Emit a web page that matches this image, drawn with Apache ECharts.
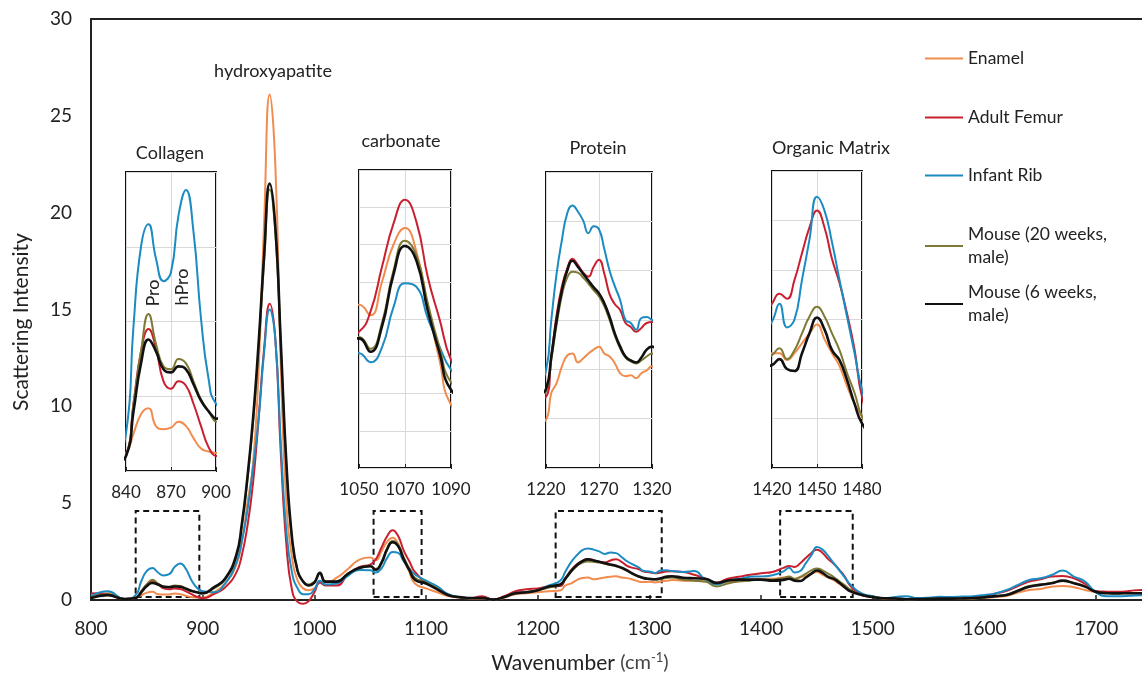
<!DOCTYPE html>
<html>
<head>
<meta charset="utf-8">
<script src="https://cdn.jsdelivr.net/npm/echarts@6/dist/echarts.min.js"></script>
<style>
  html, body { margin: 0; padding: 0; background: #fff; }
  #main { width: 1142px; height: 677px; }
</style>
</head>
<body>
<div id="main"></div>
<script>
// wavenumber samples (cm-1), finer steps inside the zoomed regions
var wavenumber = [800,815,830,
  840,845,850,855,860,865,870,875,880,885,890,895,900,
  910,920,
  930,935,940,945,950,955,960,965,970,975,980,985,990,995,1000,1005,1010,
  1020,1030,1040,
  1050,1055,1060,1065,1070,1075,1080,1085,1090,
  1100,1110,1120,1130,1140,1150,1160,1170,1180,1190,1200,1210,
  1220,1225,1230,1235,1240,1245,1250,1255,1260,1265,1270,1275,1280,1285,1290,1295,1300,1305,1310,1315,1320,
  1330,1340,1350,1360,1370,1380,1390,1400,1410,
  1420,1425,1430,1435,1440,1445,1450,1455,1460,1465,1470,1475,1480,
  1490,1500,1510,1520,1530,1540,1550,1560,1570,1580,1590,1600,1610,1620,1630,1640,1650,1660,1670,1680,1690,1700,1710,1720,1730,1740,1750];

var enamel = [0.3,0.35,0.05,
  0.12,0.25,0.38,0.42,0.3,0.28,0.29,0.33,0.3,0.22,0.15,0.13,0.12,
  0.4,0.85,
  1.8,3.0,5.0,7.0,11.8,19.5,26.1,22.5,12,5,2.2,1.0,0.6,0.5,0.6,0.9,0.9,
  1.15,1.6,2.07,
  2.19,2.05,2.5,3.0,3.22,2.9,2.15,1.45,0.85,
  0.6,0.4,0.2,0.12,0.08,0.08,0.02,0.12,0.3,0.35,0.4,0.45,
  0.49,0.76,0.86,1.03,1.14,1.16,1.07,1.11,1.16,1.2,1.23,1.16,1.13,1.06,0.96,0.93,0.94,0.91,0.96,0.99,1.03,
  1.0,1.0,0.95,0.85,0.95,1.0,1.05,1.1,1.1,
  1.16,1.16,1.09,1.16,1.26,1.36,1.45,1.3,1.16,1.03,0.83,0.65,0.52,
  0.25,0.15,0.08,0.08,0.04,0.05,0.05,0.06,0.05,0.06,0.08,0.12,0.15,0.22,0.38,0.52,0.57,0.69,0.72,0.66,0.52,0.4,0.35,0.35,0.35,0.35,0.35];

var adultFemur = [0.35,0.3,0.05,
  0.1,0.45,0.8,0.95,0.82,0.6,0.55,0.6,0.57,0.45,0.3,0.16,0.1,
  0.3,0.65,
  1.4,2.3,3.8,6.0,9.3,13.0,15.3,13.5,7.5,2.8,0.5,-0.1,-0.2,-0.05,0.4,0.9,0.75,
  0.75,1.3,1.7,
  1.83,2.1,2.7,3.28,3.6,3.3,2.55,2.0,1.45,
  0.9,0.6,0.25,0.15,0.1,0.2,0.02,0.2,0.45,0.55,0.6,0.7,
  0.72,1.13,1.55,1.84,2.02,2.12,2.06,1.98,1.94,2.04,2.11,1.97,1.76,1.66,1.6,1.47,1.43,1.38,1.42,1.47,1.48,
  1.45,1.3,1.1,0.9,1.1,1.2,1.3,1.38,1.45,
  1.66,1.76,1.71,1.9,2.17,2.43,2.6,2.43,2.11,1.87,1.56,1.2,0.72,
  0.28,0.16,0.1,0.08,0.05,0.06,0.07,0.08,0.08,0.1,0.14,0.2,0.34,0.48,0.72,0.95,1.07,1.21,1.24,1.12,0.83,0.45,0.43,0.42,0.47,0.52,0.52];

var infantRib = [0.2,0.45,0.05,
  0.25,0.97,1.5,1.65,1.42,1.27,1.33,1.71,1.88,1.6,1.02,0.62,0.45,
  0.4,0.85,
  1.9,3.0,4.6,6.8,9.3,12.8,15.0,13.5,8.0,3.5,1.4,0.6,0.3,0.3,0.55,1.0,0.8,
  0.85,1.25,1.55,
  1.54,1.42,1.62,2.16,2.48,2.43,2.0,1.63,1.32,
  1.0,0.7,0.3,0.15,0.1,0.1,0.02,0.15,0.35,0.4,0.5,0.75,
  0.99,1.5,1.97,2.31,2.58,2.66,2.6,2.51,2.38,2.45,2.42,2.22,2.0,1.84,1.7,1.5,1.47,1.4,1.52,1.53,1.5,
  1.45,1.5,1.05,0.8,1.0,1.08,1.2,1.22,1.28,
  1.48,1.66,1.42,1.5,1.9,2.31,2.74,2.6,2.28,1.9,1.53,1.16,0.79,
  0.34,0.2,0.1,0.15,0.2,0.1,0.12,0.17,0.15,0.18,0.2,0.26,0.34,0.52,0.78,1.03,1.12,1.29,1.52,1.21,0.95,0.38,0.2,0.2,0.22,0.25,0.25];

var mouse20 = [0.15,0.3,0.05,
  0.1,0.45,0.8,1.05,0.85,0.7,0.68,0.75,0.72,0.6,0.48,0.4,0.33,
  0.6,1.05,
  2.2,3.8,6.2,9.1,13.0,17.5,21.2,19.0,13.0,6.8,3.1,1.5,0.95,0.8,0.95,1.35,0.95,
  0.95,1.35,1.65,
  1.76,1.6,1.95,2.65,3.05,2.85,2.2,1.62,1.15,
  0.9,0.6,0.25,0.15,0.1,0.1,0.02,0.15,0.35,0.4,0.5,0.65,
  0.78,1.1,1.45,1.75,1.93,1.99,1.98,1.93,1.87,1.8,1.74,1.64,1.5,1.34,1.21,1.12,1.08,1.06,1.09,1.13,1.16,
  1.05,1.0,0.95,0.7,0.85,0.95,1.0,1.05,1.05,
  1.14,1.21,1.1,1.19,1.36,1.53,1.63,1.53,1.36,1.19,0.96,0.76,0.52,
  0.26,0.16,0.09,0.08,0.04,0.05,0.06,0.07,0.07,0.08,0.1,0.14,0.2,0.28,0.5,0.72,0.8,0.88,0.98,0.88,0.7,0.43,0.36,0.35,0.36,0.36,0.36];

var mouse6 = [0.1,0.25,0.05,
  0.1,0.4,0.72,0.88,0.8,0.68,0.66,0.7,0.68,0.58,0.47,0.4,0.35,
  0.65,1.1,
  2.3,3.9,6.3,9.3,13.2,17.8,21.5,19.3,13.2,7.0,3.2,1.5,0.95,0.75,0.9,1.4,0.95,
  0.95,1.35,1.65,
  1.74,1.56,1.9,2.6,2.98,2.78,2.1,1.55,1.05,
  0.85,0.55,0.25,0.15,0.1,0.1,0.02,0.15,0.35,0.4,0.5,0.7,
  0.8,1.13,1.5,1.8,2.0,2.1,2.04,1.97,1.9,1.83,1.77,1.67,1.53,1.36,1.23,1.13,1.09,1.07,1.12,1.2,1.23,
  1.15,1.12,1.1,0.88,1.0,1.05,1.05,1.05,1.0,
  1.04,1.1,1.0,0.98,1.16,1.36,1.52,1.4,1.19,1.09,0.89,0.65,0.45,
  0.26,0.15,0.09,0.08,0.04,0.05,0.06,0.07,0.07,0.08,0.1,0.14,0.2,0.26,0.48,0.69,0.78,0.86,1.0,0.86,0.69,0.42,0.35,0.34,0.35,0.35,0.35];

var seriesNames = ['Enamel', 'Adult Femur', 'Infant Rib', 'Mouse (20 weeks, male)', 'Mouse (6 weeks, male)'];
var seriesValues = [enamel, adultFemur, infantRib, mouse20, mouse6];
var seriesColors = ['#f28c4e', '#c8202f', '#1b8bc2', '#7e7a36', '#111111'];

// zoomed regions: x range, x tick step, y max (y step 0.5)
var insetTitles = ['Collagen', 'carbonate', 'Protein', 'Organic Matrix'];
var insetMin = [840, 1050, 1220, 1420];
var insetMax = [900, 1090, 1320, 1480];
var insetStep = [30, 20, 50, 30];
var insetYMax = [2, 4, 3, 3];

// dashed boxes on the main plot [x1, y1, x2, y2]
var boxes = [[840, 0.15, 897, 4.6], [1053, 0.15, 1096, 4.6], [1216, 0.15, 1311, 4.6], [1417, 0.15, 1482, 4.6]];

var FONT = 'Lato, "Open Sans", sans-serif';
var chartDom = document.getElementById('main');
var myChart = echarts.init(chartDom, null, { renderer: 'canvas' });

function pairs(v) {
  return wavenumber.map(function (x, i) { return [x, v[i]]; });
}
function plain(v) { return String(v); }

var insetPos = [
  { left: 126, top: 172, width: 90, height: 299 },
  { left: 359, top: 170, width: 92, height: 298 },
  { left: 546, top: 172, width: 106, height: 296 },
  { left: 772, top: 171, width: 90, height: 297 }
];

// the plot is cut by the right edge of the picture, so no right border
var grids = [{ left: 91, top: 19, right: 0, bottom: 77 }];
var xAxes = [{
  type: 'value', gridIndex: 0, min: 800, max: 1741, interval: 100,
  axisLine: { lineStyle: { color: '#222', width: 2 } },
  axisTick: { inside: true, length: 5, lineStyle: { color: '#222', width: 1.5 } },
  axisLabel: { fontFamily: FONT, fontSize: 19, color: '#222', margin: 19, formatter: plain, showMaxLabel: false },
  splitLine: { show: false }
}];
var yAxes = [{
  type: 'value', gridIndex: 0, min: 0, max: 30, interval: 5,
  axisLine: { show: true, lineStyle: { color: '#222', width: 2 } },
  axisTick: { show: false },
  axisLabel: { fontFamily: FONT, fontSize: 19, color: '#222', margin: 19 },
  splitLine: { show: false }
}];

insetPos.forEach(function (p, k) {
  grids.push({ left: p.left, top: p.top, width: p.width, height: p.height, show: true, borderColor: '#111', borderWidth: 2, backgroundColor: '#fff' });
  xAxes.push({
    type: 'value', gridIndex: k + 1, min: insetMin[k], max: insetMax[k], interval: insetStep[k],
    axisLine: { show: false },
    axisTick: { inside: true, length: 4, lineStyle: { color: '#222' } },
    axisLabel: { fontFamily: FONT, fontSize: 17, color: '#222', margin: 13, showMinLabel: true, showMaxLabel: true, formatter: plain },
    splitLine: { show: true, lineStyle: { color: '#d9d9d9', width: 1 } }
  });
  yAxes.push({
    type: 'value', gridIndex: k + 1, min: 0, max: insetYMax[k], interval: 0.5,
    axisLine: { show: false }, axisTick: { show: false }, axisLabel: { show: false },
    splitLine: { show: true, lineStyle: { color: '#d9d9d9', width: 1 } }
  });
});

// top frame line of the main plot
xAxes.push({
  type: 'value', gridIndex: 0, position: 'top', min: 800, max: 1741,
  axisLine: { show: true, lineStyle: { color: '#222', width: 2 } },
  axisTick: { show: false }, axisLabel: { show: false }, splitLine: { show: false }
});

var series = [];
for (var g = 0; g < 5; g++) {
  seriesNames.forEach(function (name, i) {
    var s = {
      name: name,
      type: 'line',
      xAxisIndex: g,
      yAxisIndex: g,
      data: pairs(seriesValues[i]),
      showSymbol: false,
      smooth: 0.5,
      clip: g > 0,
      silent: true,
      color: seriesColors[i],
      lineStyle: { color: seriesColors[i], width: i === 4 ? 2.6 : 2 }
    };
    if (g === 0 && i === 4) {
      s.markArea = {
        silent: true,
        itemStyle: { color: 'rgba(0,0,0,0)', borderColor: '#111', borderWidth: 2, borderType: [6, 4] },
        data: boxes.map(function (b) { return [{ coord: [b[0], b[1]] }, { coord: [b[2], b[3]] }]; })
      };
    }
    series.push(s);
  });
}

var legendTops = [47, 106, 164, 223, 281];
var legends = seriesNames.map(function (name, i) {
  return {
    left: 925, top: legendTops[i], orient: 'vertical', padding: 0,
    data: [name], selectedMode: false,
    icon: 'rect', itemWidth: 38, itemHeight: 2, itemGap: 5,
    formatter: function (n) { return n.replace(', ', ',\n'); },
    textStyle: { fontFamily: FONT, fontSize: 17.5, color: '#222', lineHeight: 23 }
  };
});

function label(text, x, y, rot) {
  return {
    type: 'text', x: x, y: y, rotation: rot || 0, silent: true,
    style: { text: text, font: '18px ' + FONT, fill: '#222', align: 'center', verticalAlign: 'middle' }
  };
}

var titleX = [170, 401, 598, 831];
var titleY = [153, 141, 148, 148];
var graphics = insetTitles.map(function (t, k) { return label(t, titleX[k], titleY[k]); });
graphics.push(label('hydroxyapatite', 273, 71));
graphics.push(label('Pro', 153, 293, Math.PI / 2));
graphics.push(label('hPro', 182, 287, Math.PI / 2));
graphics.push({
  type: 'text', x: 21, y: 322, rotation: Math.PI / 2, silent: true,
  style: { text: 'Scattering Intensity', font: '21px ' + FONT, fill: '#222', align: 'center', verticalAlign: 'middle' }
});
graphics.push({
  type: 'text', x: 580, y: 663, silent: true,
  style: {
    text: 'Wavenumber {p|(cm}{s|-1}{p|)}',
    font: '21px ' + FONT, fill: '#222', align: 'center', verticalAlign: 'middle',
    rich: {
      p: { fontFamily: FONT, fontSize: 20, fill: '#444' },
      s: { fontFamily: FONT, fontSize: 13, fill: '#444', padding: [0, 0, 10, 0] }
    }
  }
});

var option = {
  backgroundColor: '#fff',
  animation: false,
  grid: grids,
  xAxis: xAxes,
  yAxis: yAxes,
  legend: legends,
  series: series,
  graphic: graphics
};
myChart.setOption(option);
</script>
</body>
</html>
